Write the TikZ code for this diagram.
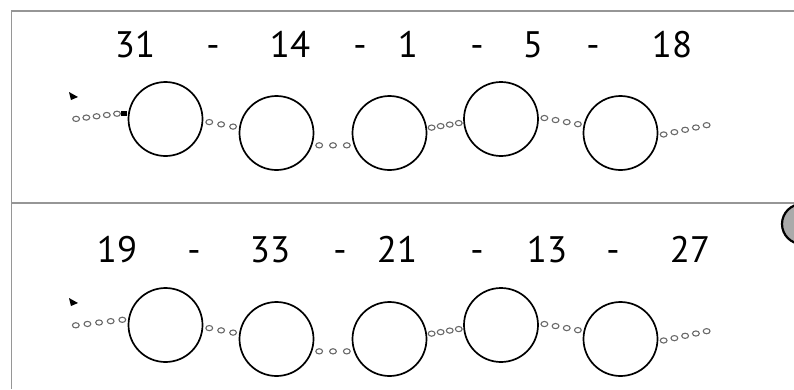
\documentclass[tikz,border=0pt]{standalone}
\usepackage{fontspec}
\setmainfont{PT Sans}
\usetikzlibrary{calc}
\definecolor{frame}{RGB}{150,150,150}
\definecolor{link}{RGB}{105,105,105}
\definecolor{disc}{RGB}{170,170,170}

% n small links between two points
\newcommand{\linkchain}[3]{%
  \foreach \k in {1,...,#3}
    \draw[chainlink] ($(#1)!{(\k-0.5)/#3}!(#2)$) ellipse[x radius=3.4bp, y radius=2.6bp];}

\begin{document}
\begin{tikzpicture}[x=1bp, y=-1bp,
  every node/.style={font=\fontsize{37}{40}\selectfont, inner sep=0pt},
  ring/.style={circle, draw=black, line width=1.7bp, minimum size=74bp},
  chainlink/.style={draw=link, line width=1.1bp},
  frameline/.style={draw=frame, line width=1.8bp}]
	\useasboundingbox (0,0) rectangle (794,389);
	\clip (0,0) rectangle (794,389);
	% frame
	\draw[frameline] (11.5,389) -- (11.5,11) -- (794,11);
	\draw[frameline] (11.5,203) -- (794,203);
	\draw[line width=2.2bp, fill=disc] (802,224) circle[radius=20bp];
	% numbers
	\foreach \x/\t [count=\i] in {135/31, 213/-, 290/14, 360/-, 408/1, 477/-, 533/5, 593/-, 672/18}
		\node[anchor=base] (a\i) at (\x,57) {\t};
	\foreach \x/\t [count=\i] in {117/19, 194/-, 270/33, 340/-, 397/21, 477/-, 547/13, 613/-, 690/27}
		\node[anchor=base] (b\i) at (\x,262) {\t};
	% rings and chains
	\foreach \r/\dy in {c/0, d/206} {
		\node[ring] (\r1) at (165.5,119+\dy) {};
		\node[ring] (\r2) at (276.5,133+\dy) {};
		\node[ring] (\r3) at (389.5,133+\dy) {};
		\node[ring] (\r4) at (501,119+\dy) {};
		\node[ring] (\r5) at (620.5,133+\dy) {};
		\coordinate (\r end) at (712,124+\dy);
		\fill (69,92+\dy) -- (78,97+\dy) -- (71,100+\dy) -- cycle;
		\linkchain{\r1.-3}{\r2.172}{3}
		\linkchain{\r2.-19}{\r3.-161}{3}
		\linkchain{\r3.7}{\r4.-175}{4}
		\linkchain{\r4.3}{\r5.168}{4}
		\linkchain{\r5.-4}{\r end}{5}
	}
	\coordinate (cstart) at (71,119.5);
	\coordinate (cstop) at ($(c1.171)+(-6,0)$);
	\coordinate (dstart) at (70,326);
	\fill ($(c1.171)+(-7,-2.5)$) rectangle ($(c1.171)+(-1,2.5)$);
	\linkchain{cstart}{cstop}{5}
	\linkchain{dstart}{d1.171}{5}
\end{tikzpicture}
\end{document}
